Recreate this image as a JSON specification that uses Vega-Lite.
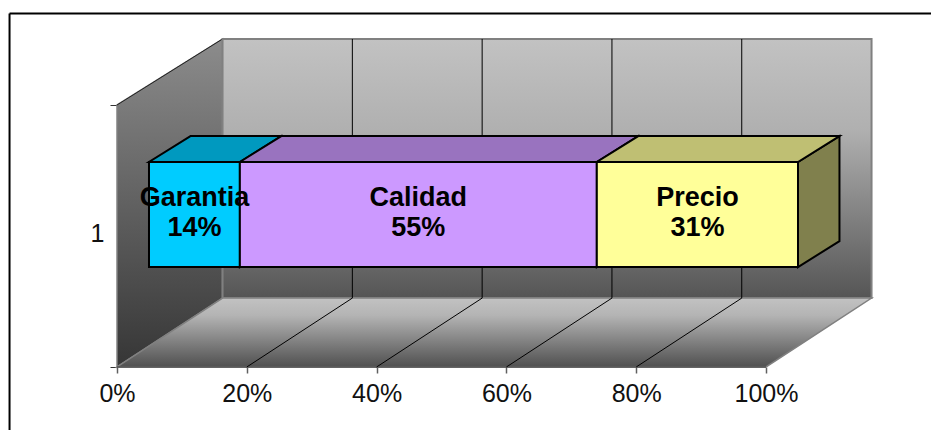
{
  "$schema": "https://vega.github.io/schema/vega-lite/v6.json",
  "width": 931,
  "height": 430,
  "padding": 0,
  "autosize": {"type": "none"},
  "background": "white",
  "config": {"view": {"stroke": null}},
  "resolve": {"scale": {"fill": "independent"}},
  "params": [
    {"name": "dx", "value": 16.26},
    {"name": "dy", "value": 25.2},
    {"name": "dyBase", "value": 26.3},
    {"name": "front", "value": 0.303},
    {"name": "back", "value": 0.696},
    {"name": "barLow", "value": 30.5},
    {"name": "barHigh", "value": 70.6}
  ],
  "datasets": {
    "shares": [
      {"label": "Garantia", "value": 14, "order": 1},
      {"label": "Calidad", "value": 55, "order": 2},
      {"label": "Precio", "value": 31, "order": 3}
    ],
    "depths": [{"depth": 0}, {"depth": 1}],
    "grid": [{"pct": 20}, {"pct": 40}, {"pct": 60}, {"pct": 80}]
  },
  "layer": [
    {
      "description": "Left wall of the box",
      "data": {"name": "depths"},
      "transform": [
        {"calculate": "datum.depth * dx", "as": "px"},
        {"calculate": "datum.depth * dyBase", "as": "py0"},
        {"calculate": "100 + datum.depth * dy", "as": "py1"}
      ],
      "mark": {
        "type": "area",
        "fill": {"gradient": "linear", "x1": 0, "y1": 0, "x2": 0, "y2": 1, "stops": [
          {"offset": 0, "color": "#8c8c8c"},
          {"offset": 1, "color": "#363636"}
        ]},
        "stroke": "#808080",
        "strokeWidth": 1.5
      },
      "encoding": {
        "x": {
          "field": "px", "type": "quantitative", "title": null,
          "scale": {"domain": [-18.03, 125.42], "nice": false, "zero": false},
          "axis": {
            "values": [0, 20, 40, 60, 80, 100],
            "labelExpr": "datum.value + '%'",
            "offset": -63,
            "domain": false,
            "grid": false,
            "tickSize": 6,
            "tickColor": "#606060",
            "tickWidth": 1.5,
            "labelFont": "Liberation Sans",
            "labelFontSize": 25,
            "labelColor": "#111111",
            "labelPadding": 8,
            "labelFlush": false,
            "labelOverlap": false
          }
        },
        "y": {
          "field": "py0", "type": "quantitative", "title": null,
          "scale": {"domain": [-24.05, 140.08], "nice": false, "zero": false},
          "axis": {
            "values": [0, 100],
            "labels": false,
            "offset": -117,
            "domain": false,
            "grid": false,
            "tickSize": 7,
            "tickColor": "#333333",
            "tickWidth": 1
          }
        },
        "y2": {"field": "py1"}
      }
    },
    {
      "description": "Upper edge of the left wall",
      "data": {"name": "depths"},
      "transform": [
        {"calculate": "datum.depth * dx", "as": "px"},
        {"calculate": "100 + datum.depth * dy", "as": "py"}
      ],
      "mark": {"type": "line", "color": "#222222", "strokeWidth": 1},
      "encoding": {
        "x": {"field": "px", "type": "quantitative", "title": null},
        "y": {"field": "py", "type": "quantitative", "title": null}
      }
    },
    {
      "description": "Back wall",
      "data": {"values": [{"pct0": 0, "pct1": 100, "h0": 0, "h1": 100}]},
      "transform": [
        {"calculate": "datum.pct0 + dx", "as": "x0"},
        {"calculate": "datum.pct1 + dx", "as": "x1"},
        {"calculate": "datum.h0 + dyBase", "as": "y0"},
        {"calculate": "datum.h1 + dy", "as": "y1"}
      ],
      "mark": {
        "type": "rect",
        "fill": {"gradient": "linear", "x1": 0, "y1": 0, "x2": 0, "y2": 1, "stops": [
          {"offset": 0, "color": "#c2c2c2"},
          {"offset": 0.35, "color": "#b0b0b0"},
          {"offset": 1, "color": "#555555"}
        ]},
        "stroke": "#808080",
        "strokeWidth": 2
      },
      "encoding": {
        "x": {"field": "x0", "type": "quantitative", "title": null},
        "x2": {"field": "x1"},
        "y": {"field": "y0", "type": "quantitative", "title": null},
        "y2": {"field": "y1"}
      }
    },
    {
      "description": "Floor",
      "data": {"name": "depths"},
      "transform": [
        {"calculate": "datum.depth * dx", "as": "x0"},
        {"calculate": "100 + datum.depth * dx", "as": "x1"},
        {"calculate": "datum.depth * dyBase", "as": "py"}
      ],
      "mark": {
        "type": "area",
        "orient": "horizontal",
        "fill": {"gradient": "linear", "x1": 0, "y1": 0, "x2": 0, "y2": 1, "stops": [
          {"offset": 0, "color": "#c2c2c2"},
          {"offset": 0.25, "color": "#b4b4b4"},
          {"offset": 1, "color": "#505050"}
        ]},
        "stroke": "#808080",
        "strokeWidth": 1.5
      },
      "encoding": {
        "y": {"field": "py", "type": "quantitative", "title": null},
        "x": {"field": "x0", "type": "quantitative", "title": null},
        "x2": {"field": "x1"}
      }
    },
    {
      "description": "Front edge of the floor",
      "data": {"values": [{"pct0": 0, "pct1": 100, "h": 0}]},
      "mark": {"type": "rule", "color": "#505050", "strokeWidth": 1.5},
      "encoding": {
        "x": {"field": "pct0", "type": "quantitative", "title": null},
        "x2": {"field": "pct1"},
        "y": {"field": "h", "type": "quantitative", "title": null}
      }
    },
    {
      "description": "Gridlines across the floor",
      "data": {"name": "grid"},
      "transform": [
        {"calculate": "[0, 1]", "as": "depth"},
        {"flatten": ["depth"]},
        {"calculate": "datum.pct + datum.depth * dx", "as": "px"},
        {"calculate": "datum.depth * dyBase", "as": "py"}
      ],
      "mark": {"type": "line", "color": "#000000", "strokeWidth": 1},
      "encoding": {
        "x": {"field": "px", "type": "quantitative", "title": null},
        "y": {"field": "py", "type": "quantitative", "title": null},
        "detail": {"field": "pct"}
      }
    },
    {
      "description": "Gridlines up the back wall",
      "data": {"name": "grid"},
      "transform": [
        {"calculate": "datum.pct + dx", "as": "px"},
        {"calculate": "dyBase", "as": "y0"},
        {"calculate": "100 + dy", "as": "y1"}
      ],
      "mark": {"type": "rule", "color": "#000000", "strokeWidth": 1},
      "encoding": {
        "x": {"field": "px", "type": "quantitative", "title": null},
        "y": {"field": "y0", "type": "quantitative", "title": null},
        "y2": {"field": "y1"}
      }
    },
    {
      "description": "Side faces of the stacked segments",
      "data": {"name": "shares"},
      "transform": [
        {"stack": "value", "groupby": [], "sort": [{"field": "order"}], "as": ["s0", "s1"]},
        {"calculate": "[front, back]", "as": "depth"},
        {"flatten": ["depth"]},
        {"calculate": "datum.s1 + datum.depth * dx", "as": "px"},
        {"calculate": "barLow + datum.depth * dy", "as": "y0"},
        {"calculate": "barHigh + datum.depth * dy", "as": "y1"}
      ],
      "mark": {"type": "area", "stroke": "#000000", "strokeWidth": 2, "strokeJoin": "miter"},
      "encoding": {
        "x": {"field": "px", "type": "quantitative", "title": null},
        "y": {"field": "y0", "type": "quantitative", "title": null},
        "y2": {"field": "y1"},
        "fill": {
          "field": "label", "type": "nominal", "legend": null,
          "scale": {"domain": ["Garantia", "Calidad", "Precio"], "range": ["#006680", "#664d80", "#80804d"]}
        }
      }
    },
    {
      "description": "Top faces of the stacked segments",
      "data": {"name": "shares"},
      "transform": [
        {"stack": "value", "groupby": [], "sort": [{"field": "order"}], "as": ["s0", "s1"]},
        {"calculate": "[front, back]", "as": "depth"},
        {"flatten": ["depth"]},
        {"calculate": "datum.s0 + datum.depth * dx", "as": "x0"},
        {"calculate": "datum.s1 + datum.depth * dx", "as": "x1"},
        {"calculate": "barHigh + datum.depth * dy", "as": "py"}
      ],
      "mark": {"type": "area", "orient": "horizontal", "stroke": "#000000", "strokeWidth": 2, "strokeJoin": "miter"},
      "encoding": {
        "y": {"field": "py", "type": "quantitative", "title": null},
        "x": {"field": "x0", "type": "quantitative", "title": null},
        "x2": {"field": "x1"},
        "fill": {
          "field": "label", "type": "nominal", "legend": null,
          "scale": {"domain": ["Garantia", "Calidad", "Precio"], "range": ["#0099bf", "#9973bf", "#bfbf73"]}
        }
      }
    },
    {
      "description": "Front faces of the stacked segments",
      "data": {"name": "shares"},
      "transform": [
        {"stack": "value", "groupby": [], "sort": [{"field": "order"}], "as": ["s0", "s1"]},
        {"calculate": "datum.s0 + front * dx", "as": "x0"},
        {"calculate": "datum.s1 + front * dx", "as": "x1"},
        {"calculate": "barLow + front * dy", "as": "y0"},
        {"calculate": "barHigh + front * dy", "as": "y1"}
      ],
      "mark": {"type": "rect", "stroke": "#000000", "strokeWidth": 2},
      "encoding": {
        "x": {"field": "x0", "type": "quantitative", "title": null},
        "x2": {"field": "x1"},
        "y": {"field": "y0", "type": "quantitative", "title": null},
        "y2": {"field": "y1"},
        "fill": {
          "field": "label", "type": "nominal", "legend": null,
          "scale": {"domain": ["Garantia", "Calidad", "Precio"], "range": ["#00ccff", "#cc99ff", "#ffff99"]}
        }
      }
    },
    {
      "description": "Segment names",
      "data": {"name": "shares"},
      "transform": [
        {"stack": "value", "groupby": [], "sort": [{"field": "order"}], "as": ["s0", "s1"]},
        {"calculate": "(datum.s0 + datum.s1) / 2 + front * dx", "as": "cx"},
        {"calculate": "64.55", "as": "cy"}
      ],
      "mark": {"type": "text", "font": "Liberation Sans", "fontWeight": "bold", "fontSize": 27, "color": "#000000", "baseline": "middle", "align": "center"},
      "encoding": {
        "x": {"field": "cx", "type": "quantitative", "title": null},
        "y": {"field": "cy", "type": "quantitative", "title": null},
        "text": {"field": "label"}
      }
    },
    {
      "description": "Segment percentages",
      "data": {"name": "shares"},
      "transform": [
        {"stack": "value", "groupby": [], "sort": [{"field": "order"}], "as": ["s0", "s1"]},
        {"calculate": "(datum.s0 + datum.s1) / 2 + front * dx", "as": "cx"},
        {"calculate": "53.15", "as": "cy"},
        {"calculate": "datum.value + '%'", "as": "caption"}
      ],
      "mark": {"type": "text", "font": "Liberation Sans", "fontWeight": "bold", "fontSize": 27, "color": "#000000", "baseline": "middle", "align": "center"},
      "encoding": {
        "x": {"field": "cx", "type": "quantitative", "title": null},
        "y": {"field": "cy", "type": "quantitative", "title": null},
        "text": {"field": "caption"}
      }
    },
    {
      "description": "Category label of the single bar",
      "data": {"values": [{"category": "1", "pct": -3.0, "h": 50.8}]},
      "mark": {"type": "text", "font": "Liberation Sans", "fontSize": 25, "color": "#111111", "baseline": "middle", "align": "center"},
      "encoding": {
        "x": {"field": "pct", "type": "quantitative", "title": null},
        "y": {"field": "h", "type": "quantitative", "title": null},
        "text": {"field": "category"}
      }
    },
    {
      "description": "Chart frame, top edge",
      "data": {"values": [{"left": -16.56, "right": 125.42, "top": 134.9}]},
      "mark": {"type": "rule", "color": "#000000", "strokeWidth": 2},
      "encoding": {
        "x": {"field": "left", "type": "quantitative", "title": null},
        "x2": {"field": "right"},
        "y": {"field": "top", "type": "quantitative", "title": null}
      }
    },
    {
      "description": "Chart frame, left edge",
      "data": {"values": [{"left": -16.56, "top": 134.9, "bottom": -24.05}]},
      "mark": {"type": "rule", "color": "#000000", "strokeWidth": 2},
      "encoding": {
        "x": {"field": "left", "type": "quantitative", "title": null},
        "y": {"field": "top", "type": "quantitative", "title": null},
        "y2": {"field": "bottom"}
      }
    }
  ]
}
